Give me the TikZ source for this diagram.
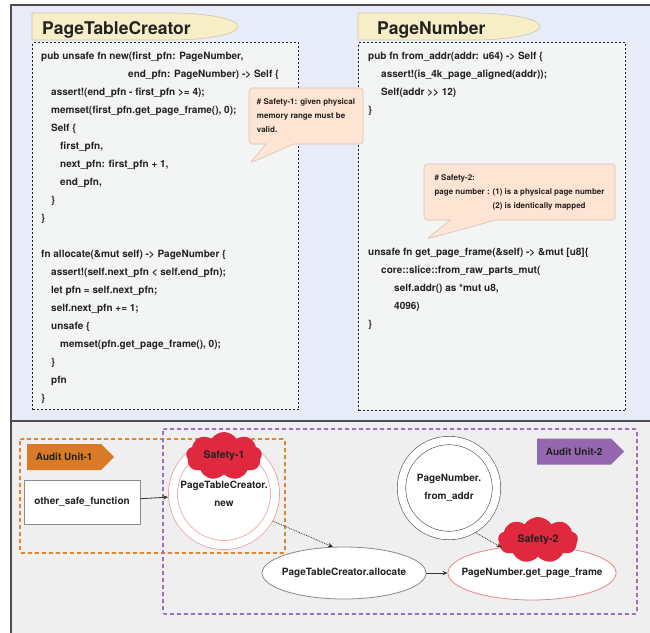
\documentclass[tikz,border=0pt]{standalone}
\usepackage{fontspec}
\setmainfont{TeX Gyre Heros}
\usetikzlibrary{shapes.geometric,shapes.symbols,shapes.callouts,arrows.meta}

\definecolor{topbg}{HTML}{E8ECF9}
\definecolor{botbg}{HTML}{EEEFEE}
\definecolor{codebg}{HTML}{F3F4F4}
\definecolor{titlebg}{HTML}{F7EEC8}
\definecolor{titleline}{HTML}{CFC6A6}
\definecolor{notebg}{HTML}{FDE4D3}
\definecolor{noteline}{HTML}{D9C2B4}
\definecolor{frameline}{HTML}{4D4D4D}
\definecolor{ink}{HTML}{222222}
\definecolor{auditone}{HTML}{D97B26}
\definecolor{audittwo}{HTML}{9467B0}
\definecolor{auditoneline}{HTML}{E0852D}
\definecolor{audittwoline}{HTML}{9D6FC6}
\definecolor{safered}{HTML}{E0283E}
\definecolor{safeline}{HTML}{E8868A}
\definecolor{boxline}{HTML}{8A8A8A}
\definecolor{circline}{HTML}{555555}
\definecolor{callline}{HTML}{333333}

\tikzset{
  frame/.style={draw=frameline, line width=1.3pt},
  codebox/.style={draw=ink, fill=codebg, line width=1.1pt, dash pattern=on 2pt off 2pt, anchor=north west, inner sep=0pt},
  codetext/.style={text=ink, font=\fontsize{10}{18}\selectfont\bfseries, align=left, anchor=north west, inner sep=0pt},
  titleshape/.style={fill=titlebg, draw=titleline, line width=.6pt},
  titletext/.style={text=ink, font=\fontsize{17.5}{20}\selectfont\bfseries, anchor=base west, inner sep=0pt},
  note/.style={rectangle callout, fill=notebg, draw=noteline, line width=.6pt, rounded corners=3pt, text=ink, font=\fontsize{8}{14}\selectfont\bfseries, align=left, minimum height=56pt, inner ysep=0pt},
  audit/.style={dash pattern=on 4pt off 3pt, line width=1.6pt, rounded corners=2pt},
  tag/.style={signal, signal to=east, text=ink, font=\fontsize{10}{12}\selectfont\bfseries, minimum height=26pt, minimum width=87pt, anchor=west, inner sep=0pt},
  fnbox/.style={draw=boxline, fill=white, line width=.8pt, minimum width=116pt, minimum height=44pt, text=ink, font=\fontsize{10}{12}\selectfont\bfseries},
  unsafefn/.style={circle, fill=white, double=white, line width=.6pt, inner sep=0pt, outer sep=4.9pt, align=center, text=ink, font=\fontsize{10}{18}\selectfont\bfseries},
  fnell/.style={ellipse, fill=white, line width=.8pt, inner sep=0pt, text=ink, font=\fontsize{10}{12}\selectfont\bfseries},
  safety/.style={cloud, cloud puffs=9, cloud puff arc=115, cloud ignores aspect, fill=safered, inner sep=0pt, text=ink, font=\fontsize{10.5}{12}\selectfont\bfseries},
  call/.style={draw=callline, line width=.8pt, -{Stealth[length=5pt,width=4pt]}},
  mayuse/.style={call, densely dotted}
}

\begin{document}
\begin{tikzpicture}[x=1pt,y=-1pt]
\useasboundingbox (0,0) rectangle (650,632);

\fill[topbg] (11,5) rectangle (652,421);
\fill[botbg] (11,421) rectangle (652,634);
\draw[frame] (652,5) -- (11,5) -- (11,634);
\draw[frame] (11,421) -- (652,421);

\node[codebox, minimum width=266pt, minimum height=367pt] (ptcbox) at (32,42) {};
\node[codebox, minimum width=267pt, minimum height=368pt] (pnbox) at (358,42) {};

\draw[titleshape] (32,40) -- (32,13) -- (170,13) .. controls (207.6,13) and (238,19) .. (238,26.5)
  .. controls (238,34) and (207.6,40) .. (170,40) -- cycle;
\node[titletext] (ptctitle) at (42,34) {PageTableCreator};
\draw[titleshape] (358,40) -- (358,13) -- (472,13) .. controls (509.6,13) and (540,19) .. (540,26.5)
  .. controls (540,34) and (509.6,40) .. (472,40) -- cycle;
\node[titletext] (pntitle) at (377,34) {PageNumber};

\node[codetext] (newfn) at (41,52.3) {pub unsafe fn new(first\_pfn: PageNumber,\\
\hspace*{87pt}end\_pfn: PageNumber) -> Self \{\\
\hspace*{10pt}assert!(end\_pfn - first\_pfn >= 4);\\
\hspace*{10pt}memset(first\_pfn.get\_page\_frame(), 0);\\
\hspace*{10pt}Self \{\\
\hspace*{19pt}first\_pfn,\\
\hspace*{19pt}next\_pfn: first\_pfn + 1,\\
\hspace*{19pt}end\_pfn,\\
\hspace*{10pt}\}\\
\}};
\node[codetext] (allocfn) at (41,250.3) {fn allocate(\&mut self) -> PageNumber \{\\
\hspace*{10pt}assert!(self.next\_pfn < self.end\_pfn);\\
\hspace*{10pt}let pfn = self.next\_pfn;\\
\hspace*{10pt}self.next\_pfn += 1;\\
\hspace*{10pt}unsafe \{\\
\hspace*{19pt}memset(pfn.get\_page\_frame(), 0);\\
\hspace*{10pt}\}\\
\hspace*{10pt}pfn\\
\}};
\node[codetext] (fromaddrfn) at (368,52.3) {pub fn from\_addr(addr: u64) -> Self \{\\
\hspace*{13pt}assert!(is\_4k\_page\_aligned(addr));\\
\hspace*{13pt}Self(addr >\kern0pt> 12)\\
\}};
\node[codetext] (getframefn) at (368,248.3) {unsafe fn get\_page\_frame(\&self) -> \&mut [u8]\{\\
\hspace*{13pt}core::slice::from\_raw\_parts\_mut(\\
\hspace*{26pt}self.addr() as *mut u8,\\
\hspace*{26pt}4096)\\
\}};

\coordinate (tipone) at (250,163);
\coordinate (tiptwo) at (427,239);
\node[note, minimum width=114pt, callout absolute pointer=(tipone), callout pointer width=28pt] (noteone) at (306,116)
  {\# Safety-1: given physical\\memory range must be\\valid.};
\node[note, minimum width=191pt, callout absolute pointer=(tiptwo), callout pointer width=46pt] (notetwo) at (519.5,192)
  {\# Safety-2:\\page number : (1) is a physical page number\\\phantom{page number : }(2) is identically mapped};

\draw[audit, draw=auditoneline] (20,439) rectangle (285,553);
\draw[audit, draw=audittwoline] (163,429) rectangle (637,614);

\node[tag, fill=auditone] (unitone) at (27,457) {Audit Unit-1};
\node[tag, fill=audittwo] (unittwo) at (537,451.5) {Audit Unit-2};
\node[fnbox] (othersafe) at (82,502) {other\_safe\_function};
\node[unsafefn, draw=safeline, minimum size=102pt, double distance=8.5pt] (ptcnew) at (224,494) {PageTableCreator.\\new};
\node[safety, minimum width=76pt, minimum height=48pt] (safeone) at (224,456) {\makebox[0pt]{Safety-1}};
\node[unsafefn, draw=circline, minimum size=95pt, double distance=7.8pt] (fromaddr) at (449,488) {PageNumber.\\from\_addr};
\node[fnell, draw=boxline, minimum width=164pt, minimum height=52pt] (alloc) at (344,573) {\makebox[0pt]{PageTableCreator.allocate}};
\node[fnell, draw=safeline, minimum width=168pt, minimum height=54pt] (getframe) at (532,573) {\makebox[0pt]{PageNumber.get\_page\_frame}};
\node[safety, minimum width=80pt, minimum height=46pt] (safetwo) at (538,540) {\makebox[0pt]{Safety-2}};

\draw[call] (othersafe) -- (ptcnew);
\draw[mayuse] (ptcnew.-29) -- (alloc.113);
\draw[call] (alloc) -- (getframe);
\draw[mayuse] (fromaddr.-59) -- (getframe.140);

\end{tikzpicture}
\end{document}
